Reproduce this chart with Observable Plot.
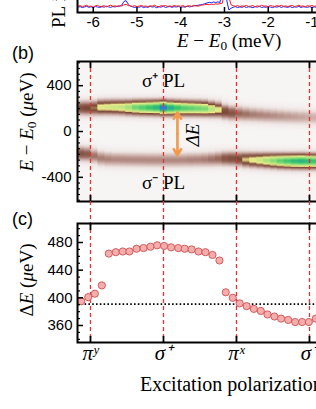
<!DOCTYPE html>
<html><head><meta charset="utf-8">
<script src="https://cdn.jsdelivr.net/npm/d3@7"></script>
<script src="https://cdn.jsdelivr.net/npm/@observablehq/plot@0.6"></script>
<style>
html,body{margin:0;padding:0;background:#fff;}
#root{position:relative;width:316px;height:409px;overflow:hidden;background:#fff;}
.panel{position:absolute;left:0;width:400px;}
.panel svg{max-width:none !important;width:400px;}
.lbl{position:absolute;white-space:nowrap;font-family:"Liberation Serif","Times New Roman",serif;color:#000;line-height:1;}
.sans{font-family:"Liberation Sans",Arial,sans-serif;}
.rot{transform:rotate(-90deg);transform-origin:0 0;text-align:center;}
.sb{font-size:0.7em;vertical-align:-0.25em;}
</style></head><body><div id="root"></div>
<script>
// ---------- (a) PL spectra (only bottom strip visible) ----------
const E_meV = [-6.35,-6.3,-6.25,-6.2,-6.15,-6.1,-6.05,-6,-5.95,-5.9,
-5.85,-5.8,-5.75,-5.7,-5.65,-5.6,-5.55,-5.5,-5.45,-5.4,
-5.35,-5.3,-5.25,-5.2,-5.15,-5.1,-5.05,-5,-4.95,-4.9,
-4.85,-4.8,-4.75,-4.7,-4.65,-4.6,-4.55,-4.5,-4.45,-4.4,
-4.35,-4.3,-4.25,-4.2,-4.15,-4.1,-4.05,-4,-3.95,-3.9,
-3.85,-3.8,-3.75,-3.7,-3.65,-3.6,-3.55,-3.5,-3.45,-3.4,
-3.35,-3.3,-3.25,-3.2,-3.15,-3.1,-3.05,-3,-2.95,-2.9,
-2.85,-2.8,-2.75,-2.7,-2.65,-2.6,-2.55,-2.5,-2.45,-2.4,
-2.35,-2.3,-2.25,-2.2,-2.15,-2.1,-2.05,-2,-1.95,-1.9,
-1.85,-1.8,-1.75,-1.7,-1.65,-1.6,-1.55,-1.5,-1.45,-1.4,
-1.35,-1.3,-1.25,-1.2,-1.15,-1.1,-1.05,-1,-0.95,-0.9,-0.85];
const plRed = [44,50,41,47,52,43,46,39,48,51,42,45,49,40,47,53,44,48,42,50,46,
55,58,50,47,44,
49,42,46,51,43,47,40,48,45,52,44,41,49,46,50,43,47,42,51,45,48,44,50,41,46,49,43,52,47,45,50,54,56,
58,55,60,57,62,59,64,66,150,320,110,55,
48,44,50,42,47,45,51,43,46,49,41,48,44,52,45,47,42,50,46,43,49,45,51,44,47,42,48,50,43,46,52,44,47,41,49,45,50,43,47,46];
const plBlue = [38,42,35,40,44,37,41,34,43,39,36,42,38,45,40,37,43,39,46,44,52,
78,85,60,45,40,
36,41,38,43,35,40,37,44,39,42,34,41,38,45,36,40,43,37,42,39,44,36,41,38,45,40,43,47,50,52,55,58,62,
68,72,70,75,71,76,72,200,420,90,18,30,
38,42,35,40,37,43,36,41,39,34,42,38,44,36,40,37,43,39,35,41,38,44,36,42,39,37,43,35,40,38,44,36,41,39,37,42,35,40,38,43];
const topTicks = [-6,-5,-4,-3,-2,-1];

// ---------- polarization axis (QWP angle, deg) ----------
const polTicks = [0,45,90,135];
const polLabels = ["πʸ","σ⁺","πˣ","σ⁻"];
const polX = [-5.7,-1.4,2.7,7.0,11.3,15.6,19.9,24.0,28.4,32.7,37.0,41.1,45.4,49.7,54.1,58.1,62.4,66.6,70.9,75.2,79.5,83.4,87.7,92.0,96.3,100.7,105.0,109.1,113.4,117.5,121.9,126.2,130.5,134.6,138.9];

// ---------- (b) PL map: per-column peak energy (µeV) and relative intensity ----------
const upperE = [203,203,204,210,211,211,210,208,208,207,207,207,206,204,203,202,201,200,198,193,188,170,160,155,150,146,142,138,135,132,129,126,124,122,120];
const upperI = [0.40,0.42,0.45,0.56,0.58,0.60,0.62,0.68,0.76,0.80,0.84,0.88,1.00,0.90,0.84,0.80,0.78,0.76,0.74,0.64,0.55,0.42,0.38,0.32,0.30,0.28,0.27,0.26,0.25,0.24,0.23,0.22,0.21,0.20,0.19];
const lowerE = [-195,-198,-215,-235,-242,-245,-246,-247,-248,-249,-250,-250,-251,-251,-251,-250,-249,-248,-246,-244,-240,-238,-238,-242,-247,-250,-252,-254,-256,-258,-259,-260,-260,-261,-261];
const lowerI = [0.38,0.36,0.30,0.28,0.27,0.26,0.26,0.26,0.26,0.26,0.26,0.26,0.26,0.26,0.26,0.26,0.27,0.27,0.28,0.30,0.32,0.38,0.40,0.42,0.50,0.55,0.60,0.66,0.72,0.78,0.82,0.86,0.88,0.86,0.84];
const lineSigma = 44; // µeV, PL line width
const bTicks = [-400,0,400];
const bMinor = [-600,-550,-500,-450,-350,-300,-250,-200,-150,-100,-50,50,100,150,200,250,300,350,450,500,550,600];
const cmapStops = [0,0.08,0.2,0.32,0.42,0.52,0.68,0.84,1];
const cmapColors = ["#f7f4f4","#ede3e1","#c9aaa4","#96675b","#7a4738","#f0e98c","#a3e27b","#33c46c","#2b7ad6"];
const bNotes = [{x:45,y:440,t:"σ⁺ PL"},{x:45,y:-445,t:"σ⁻ PL"}];
const arrowX = 53.6, arrowTop = 166, arrowBottom = -209;
const dELabel = [{x:63,y:-30,t:"ΔE"}];

// ---------- (c) splitting ΔE (µeV) ----------
const deltaE = [395,401,406,418,464,466,467,467,471,472,474,476,475,473,472,471,470,467,466,462,454,408,400,392,388,384,381,376,373,370,368,365,365,365,370];
const cTicks = [360,400,440,480];
const cMinor = [340,350,370,380,390,410,420,430,450,460,470,490,500];
const dottedLevel = [391];

// ================= build =================
const root = document.getElementById("root");
const RED = "#e5332d";
const style = {fontFamily:'"Liberation Sans", Arial, sans-serif', fontSize:"15px", background:"transparent", overflow:"visible", color:"black", maxWidth:"none"};
const common = {width:400, marginLeft:77, marginRight:7, style};
function place(el, top){ const d=document.createElement("div"); d.className="panel"; d.style.top=top+"px"; d.appendChild(el); root.appendChild(d); }

// top panel
const pTop = Plot.plot({
  ...common, height:200, marginTop:10, marginBottom:50,
  x:{domain:[-6.36,0.864]}, y:{domain:[0,1000], axis:null},
  marks:[
    Plot.lineY(plBlue, {x:E_meV, stroke:"#2323ff", strokeWidth:1}),
    Plot.lineY(plRed, {x:E_meV, stroke:"#ff1c1c", strokeWidth:1}),
    Plot.axisX(topTicks, {anchor:"bottom", tickSize:-5, tickPadding:9, tickFormat:d=>`${d}`, strokeWidth:1.5, label:null}),
    Plot.frame({stroke:"black", strokeWidth:2})
  ]
});
place(pTop, -138);

// panel b cells
const edges = polX.map((x,i)=> i===0 ? x-(polX[1]-polX[0])/2 : (polX[i-1]+x)/2);
edges.push(polX[polX.length-1] + (polX[polX.length-1]-polX[polX.length-2])/2);
const rows = d3.range(-610, 610, 10);
const cells = [];
polX.forEach((x,i)=>{
  rows.forEach(e=>{
    const m = e+5;
    const v = upperI[i]*Math.exp(-((m-upperE[i])**2)/(2*lineSigma**2)) + lowerI[i]*Math.exp(-((m-lowerE[i])**2)/(2*lineSigma**2));
    cells.push({x1:edges[i], x2:edges[i+1], y1:e, y2:e+10, v});
  });
});
const pB = Plot.plot({
  ...common, height:160, marginTop:16, marginBottom:4,
  x:{domain:[-8.0,186.8]}, y:{domain:[-611,611]},
  color:{type:"linear", domain:cmapStops, range:cmapColors, clamp:true},
  marks:[
    Plot.rect(cells, {x1:"x1", x2:"x2", y1:"y1", y2:"y2", fill:"v", inset:-0.35}),
    Plot.ruleX(polTicks, {stroke:RED, strokeDasharray:"4,3", strokeWidth:1.3}),
    Plot.text(bNotes, {x:"x", y:"y", text:"t", fontFamily:'"Liberation Serif", serif', fontSize:19}),
    Plot.arrow([{x:arrowX, y1:(arrowTop+arrowBottom)/2, y2:arrowTop},{x:arrowX, y1:(arrowTop+arrowBottom)/2, y2:arrowBottom}],
      {x1:"x", x2:"x", y1:"y1", y2:"y2", stroke:"#f19a4e", strokeWidth:2.6, headLength:9}),
    Plot.text(dELabel, {x:"x", y:"y", text:"t", rotate:-90, fontFamily:'"Liberation Serif", serif', fontStyle:"italic", fontSize:19}),
    Plot.axisY(bTicks, {tickSize:-6, tickPadding:12, tickFormat:d=>`${d}`, strokeWidth:1.5, label:null}),
    Plot.axisY(bMinor, {tickSize:-3, tickFormat:()=>"", strokeWidth:1.2, label:null}),
    Plot.axisX(polTicks, {anchor:"top", tickSize:-6, tickFormat:()=>"", strokeWidth:1.8, label:null}),
    Plot.axisX(polTicks, {anchor:"bottom", tickSize:-6, tickFormat:()=>"", strokeWidth:1.8, label:null}),
    Plot.frame({stroke:"black", strokeWidth:2})
  ]
});
place(pB, 45);

// panel c
const pC = Plot.plot({
  ...common, height:171, marginTop:22, marginBottom:30,
  x:{domain:[-8.0,186.8]}, y:{domain:[335.4,507.5]},
  marks:[
    Plot.ruleX(polTicks, {stroke:RED, strokeDasharray:"4,3", strokeWidth:1.3, insetTop:-22}),
    Plot.ruleY(dottedLevel, {stroke:"black", strokeDasharray:"1.6,2.2", strokeWidth:1.8}),
    Plot.dot(deltaE, {x:polX, y:d=>d, r:3.6, fill:"#f6adad", stroke:"#d35c5c", strokeWidth:1}),
    Plot.axisY(cTicks, {tickSize:-6, tickPadding:11, tickFormat:d=>`${d}`, strokeWidth:1.5, label:null}),
    Plot.axisY(cMinor, {tickSize:-3, tickFormat:()=>"", strokeWidth:1.2, label:null}),
    Plot.axisX(polTicks, {anchor:"top", tickSize:-6, tickFormat:()=>"", strokeWidth:1.8, label:null}),
    Plot.axisX(polTicks, {anchor:"bottom", tickSize:-6, tickPadding:9, tickFormat:(d)=>polLabels[polTicks.indexOf(d)], strokeWidth:1.8, label:null,
      fontFamily:'"Liberation Serif", serif', fontStyle:"italic", fontSize:21}),
    Plot.frame({stroke:"black", strokeWidth:2})
  ]
});
place(pC, 201);

// text labels
function lbl(html, css, cls){ const d=document.createElement("div"); d.className="lbl "+(cls||""); d.innerHTML=html; Object.assign(d.style, css); root.appendChild(d); }
lbl("PL intensity (arb. units)", {left:"49px", top:"28px", fontSize:"19px", textAlign:"left"}, "rot");
lbl('<i>E</i> − <i>E</i><span class="sb">0</span> (meV)', {left:"177px", top:"31px", fontSize:"19px"});
lbl("(b)", {left:"12px", top:"44px", fontSize:"18px"}, "sans");
lbl('<i>E</i> − <i>E</i><span class="sb">0</span> (<i>μ</i>eV)', {left:"17px", top:"222px", width:"200px", fontSize:"19px"}, "rot");
lbl("(c)", {left:"12px", top:"210px", fontSize:"18px"}, "sans");
lbl('Δ<i>E</i> (<i>μ</i>eV)', {left:"17px", top:"380px", width:"200px", fontSize:"19px"}, "rot");
lbl("Excitation polarization", {left:"140px", top:"374px", fontSize:"20px"});
</script></body></html>
